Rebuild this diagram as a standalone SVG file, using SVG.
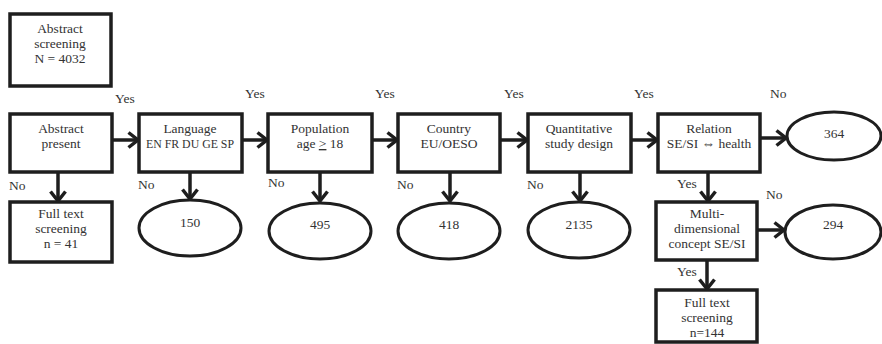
<svg xmlns="http://www.w3.org/2000/svg" width="882" height="344" viewBox="0 0 882 344">
<style>
.box{fill:#fff;stroke:#1e1e1e;stroke-width:3.5}
.ell{fill:#fff;stroke:#1e1e1e;stroke-width:3}
.t{font-family:"Liberation Serif","DejaVu Serif",serif;font-size:13.5px;fill:#333;text-anchor:middle}
.l{font-family:"Liberation Serif","DejaVu Serif",serif;font-size:13.5px;fill:#333}
.c{stroke:#1e1e1e;stroke-width:3.5;fill:none;marker-end:url(#ah)}
</style>
<defs>
<marker id="ah" viewBox="0 0 14 18" markerWidth="14" markerHeight="18" refX="11" refY="9" orient="auto" markerUnits="userSpaceOnUse">
<path d="M1.5,1.5 L11,9 L1.5,16.5" fill="none" stroke="#1e1e1e" stroke-width="3.5"/>
</marker>
</defs>
<g id="connectors">
<line class="c" x1="112" y1="140" x2="138" y2="140"/>
<line class="c" x1="242" y1="140" x2="267" y2="140"/>
<line class="c" x1="372" y1="140" x2="397" y2="140"/>
<line class="c" x1="500" y1="140" x2="527" y2="140"/>
<line class="c" x1="631" y1="140" x2="657" y2="140"/>
<line class="c" x1="760" y1="138" x2="786" y2="138"/>
<line class="c" x1="58" y1="172" x2="58" y2="201"/>
<line class="c" x1="190" y1="172" x2="190" y2="199"/>
<line class="c" x1="320" y1="172" x2="320" y2="201"/>
<line class="c" x1="450" y1="172" x2="450" y2="201"/>
<line class="c" x1="580" y1="172" x2="580" y2="201"/>
<line class="c" x1="708" y1="172" x2="708" y2="201"/>
<line class="c" x1="757" y1="230" x2="784" y2="230"/>
<line class="c" x1="707" y1="260" x2="707" y2="289"/>
</g>
<g id="n_abstract_screening">
<rect class="box" x="10" y="14" width="101" height="72"/>
<text class="t" x="60" y="33">Abstract</text>
<text class="t" x="60" y="48">screening</text>
<text class="t" x="60" y="63">N = 4032</text>
</g>
<g id="n_abstract_present">
<rect class="box" x="10" y="114" width="102" height="58"/>
<text class="t" x="61" y="133">Abstract</text>
<text class="t" x="61" y="148">present</text>
</g>
<g id="n_language">
<rect class="box" x="139" y="114" width="103" height="58"/>
<text class="t" x="190" y="133">Language</text>
<text class="t" x="190" y="148" textLength="88" lengthAdjust="spacingAndGlyphs">EN FR DU GE SP</text>
</g>
<g id="n_population">
<rect class="box" x="268" y="114" width="104" height="58"/>
<text class="t" x="320" y="133">Population</text>
<text class="t" x="320" y="148">age <tspan text-decoration="underline">&gt;</tspan> 18</text>
</g>
<g id="n_country">
<rect class="box" x="398" y="114" width="102" height="58"/>
<text class="t" x="449" y="133">Country</text>
<text class="t" x="449" y="148">EU/OESO</text>
</g>
<g id="n_quantitative">
<rect class="box" x="528" y="114" width="103" height="58"/>
<text class="t" x="579" y="133">Quantitative</text>
<text class="t" x="579" y="148">study design</text>
</g>
<g id="n_relation">
<rect class="box" x="658" y="114" width="102" height="58"/>
<text class="t" x="709" y="133">Relation</text>
<text class="t" x="709" y="148">SE/SI ⇔ health</text>
</g>
<g id="n_364">
<ellipse class="ell" cx="834" cy="136" rx="47" ry="24"/>
<text class="t" x="834" y="138">364</text>
</g>
<g id="n_fulltext41">
<rect class="box" x="10" y="202" width="102" height="60"/>
<text class="t" x="61" y="218">Full text</text>
<text class="t" x="61" y="233">screening</text>
<text class="t" x="61" y="248">n = 41</text>
</g>
<g id="n_150">
<ellipse class="ell" cx="190" cy="228" rx="51" ry="28"/>
<text class="t" x="190" y="227">150</text>
</g>
<g id="n_495">
<ellipse class="ell" cx="320" cy="231" rx="51" ry="28"/>
<text class="t" x="320" y="229">495</text>
</g>
<g id="n_418">
<ellipse class="ell" cx="449" cy="231" rx="51" ry="28"/>
<text class="t" x="449" y="229">418</text>
</g>
<g id="n_2135">
<ellipse class="ell" cx="579" cy="230" rx="51" ry="28"/>
<text class="t" x="579" y="229">2135</text>
</g>
<g id="n_multi">
<rect class="box" x="656" y="202" width="101" height="58"/>
<text class="t" x="707" y="218">Multi-</text>
<text class="t" x="707" y="233">dimensional</text>
<text class="t" x="707" y="248">concept SE/SI</text>
</g>
<g id="n_294">
<ellipse class="ell" cx="833" cy="232" rx="48" ry="27"/>
<text class="t" x="833" y="229">294</text>
</g>
<g id="n_fulltext144">
<rect class="box" x="656" y="290" width="101" height="52"/>
<text class="t" x="707" y="307">Full text</text>
<text class="t" x="707" y="322">screening</text>
<text class="t" x="707" y="337">n=144</text>
</g>
<g id="labels">
<text class="l" x="115" y="103">Yes</text>
<text class="l" x="245" y="98">Yes</text>
<text class="l" x="375" y="98">Yes</text>
<text class="l" x="504" y="98">Yes</text>
<text class="l" x="634" y="98">Yes</text>
<text class="l" x="770" y="98">No</text>
<text class="l" x="9" y="190">No</text>
<text class="l" x="138" y="189">No</text>
<text class="l" x="268" y="187">No</text>
<text class="l" x="397" y="189">No</text>
<text class="l" x="527" y="189">No</text>
<text class="l" x="677" y="188">Yes</text>
<text class="l" x="766" y="199">No</text>
<text class="l" x="677" y="276">Yes</text>
</g>
</svg>
